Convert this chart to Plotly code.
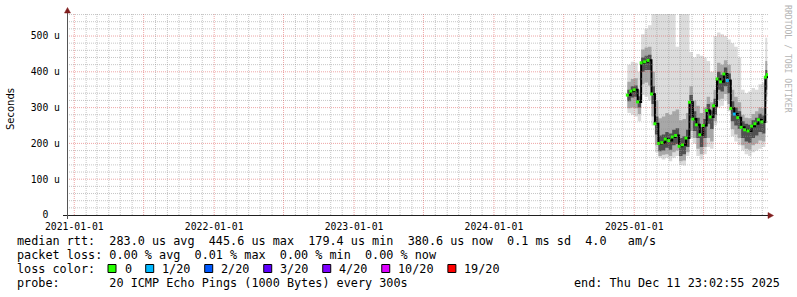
import plotly.graph_objects as go

# ---------------- data ----------------
dates = ["2024-12-14", "2024-12-23", "2025-01-01", "2025-01-10", "2025-01-19", "2025-01-28",
         "2025-02-06", "2025-02-15", "2025-02-24", "2025-03-05", "2025-03-14", "2025-03-23",
         "2025-04-01", "2025-04-10", "2025-04-19", "2025-04-28", "2025-05-07", "2025-05-16",
         "2025-05-25", "2025-06-03", "2025-06-12", "2025-06-21", "2025-06-30", "2025-07-09",
         "2025-07-18", "2025-07-27", "2025-08-05", "2025-08-14", "2025-08-23", "2025-09-01",
         "2025-09-10", "2025-09-19", "2025-09-28", "2025-10-07", "2025-10-16", "2025-10-25",
         "2025-11-03", "2025-11-12", "2025-11-21", "2025-11-30", "2025-12-09", "2025-12-14"]

# median rtt in microseconds
median_us = [335, 346, 350, 316, 425, 428, 432, 338, 255, 200, 202, 212, 208, 218, 222, 192,
             196, 215, 315, 268, 252, 224, 250, 292, 274, 305, 380, 372, 394, 376, 298, 282,
             272, 245, 238, 235, 248, 255, 266, 260, 385, 392]

# smoke envelopes (outer -> inner), microseconds
smoke_hi1 = [420, 428, 425, 400, 505, 520, 530, 562, 562, 562, 562, 562, 562, 562, 470, 562,
             562, 562, 455, 440, 450, 445, 440, 430, 400, 500, 510, 505, 500, 490, 480, 470,
             440, 350, 340, 345, 355, 350, 365, 370, 495, 500]
smoke_lo1 = [285, 280, 275, 262, 335, 330, 320, 250, 175, 160, 155, 160, 150, 160, 165, 140,
             138, 165, 215, 200, 165, 155, 170, 190, 185, 250, 300, 305, 320, 290, 220, 205,
             195, 180, 170, 165, 175, 180, 185, 190, 310, 320]
smoke_hi2 = [372, 380, 382, 350, 462, 468, 470, 400, 320, 270, 275, 285, 280, 290, 295, 265,
             268, 285, 360, 320, 305, 285, 300, 330, 315, 350, 425, 420, 432, 420, 350, 330,
             315, 280, 272, 270, 282, 290, 300, 298, 430, 435]
smoke_lo2 = [298, 300, 298, 282, 365, 370, 362, 275, 195, 165, 168, 170, 165, 175, 180, 150,
             152, 175, 235, 215, 185, 170, 190, 215, 205, 262, 322, 325, 338, 310, 240, 225,
             215, 195, 185, 182, 195, 200, 208, 205, 330, 335]
smoke_hi3 = [350, 360, 362, 332, 440, 445, 448, 360, 275, 222, 225, 232, 228, 238, 242, 215,
             220, 238, 335, 290, 272, 245, 268, 310, 292, 325, 400, 392, 412, 395, 318, 300,
             290, 262, 255, 252, 265, 272, 283, 278, 405, 410]
smoke_lo3 = [318, 328, 330, 300, 400, 405, 405, 310, 225, 178, 180, 188, 182, 195, 198, 165,
             170, 190, 270, 235, 215, 190, 215, 255, 240, 280, 350, 345, 360, 340, 262, 250,
             240, 215, 205, 202, 215, 222, 232, 228, 350, 355]

# packet loss per point (pings lost out of 20)
loss_20 = [0, 0, 0, 0, 0, 0, 0, 0, 0, 0, 0, 0, 0, 0, 0, 0, 0, 0, 0, 0, 0, 0, 0, 0, 0, 0, 0, 0,
           0, 1, 0, 1, 0, 0, 0, 0, 0, 0, 0, 0, 0, 0]

loss_labels = ["0", "1/20", "2/20", "3/20", "4/20", "10/20", "19/20"]
loss_levels = [0, 1, 2, 3, 4, 10, 19]
loss_colors = ["#26ff00", "#00b8ff", "#0059ff", "#5e00ff", "#7e00ff", "#dd00ff", "#ff0000"]

y_tickvals = [0, 100, 200, 300, 400, 500]
y_ticktext = ["0\u00a0\u00a0", "100\u00a0u", "200\u00a0u", "300\u00a0u", "400\u00a0u", "500\u00a0u"]
x_tickvals = ["2021-01-01", "2022-01-01", "2023-01-01", "2024-01-01", "2025-01-01"]
x_ticktext = ["2021-01-01", "2022-01-01", "2023-01-01", "2024-01-01", "2025-01-01"]

legend_rtt = "median rtt:  283.0 us avg  445.6 us max  179.4 us min  380.6 us now  0.1 ms sd  4.0   am/s"
legend_loss = "packet loss: 0.00 % avg  0.01 % max  0.00 % min  0.00 % now"
legend_probe = "probe:       20 ICMP Echo Pings (1000 Bytes) every 300s"
legend_end = "end: Thu Dec 11 23:02:55 2025"

# ---------------- layout geometry ----------------
W, H = 797, 297
PL, PR, PT, PB = 67, 768, 14, 215
Y_MAX = 561.5
X_RANGE = ["2020-12-13", "2025-12-16"]
MONO = "DejaVu Sans Mono"
GRID = "rgba(143,143,143,0.5)"
MGRID = "rgba(222,79,79,0.5)"
AXIS = "#1f1f1f"
ARROW = "#801f1f"


def fx(p):
    return (p - PL) / (PR - PL)


def fy(p):
    return (PB - p) / (PB - PT)


def nb(s):
    return s.replace(" ", "\u00a0")


fig = go.Figure()

for lo, hi, col in [(smoke_lo1, smoke_hi1, "#dcdcdc"),
                    (smoke_lo2, smoke_hi2, "#a8a8a8"),
                    (smoke_lo3, smoke_hi3, "#505050")]:
    fig.add_trace(go.Scatter(x=dates, y=lo, mode="lines", line=dict(width=0, shape="hv"),
                             hoverinfo="skip", showlegend=False))
    fig.add_trace(go.Scatter(x=dates, y=hi, mode="lines", line=dict(width=0, shape="hv"),
                             fill="tonexty", fillcolor=col, hoverinfo="skip", showlegend=False))

fig.add_trace(go.Scatter(x=dates, y=median_us, mode="lines",
                         line=dict(color="#000000", width=2, shape="hv"), showlegend=False))
cmap = dict(zip(loss_levels, loss_colors))
fig.add_trace(go.Scatter(x=dates, y=median_us, mode="markers",
                         marker=dict(symbol="square", size=3, color=[cmap[l] for l in loss_20],
                                     line=dict(width=0)), showlegend=False))

shapes = []
# horizontal grid
for v in range(20, int(Y_MAX), 20):
    shapes.append(dict(type="line", xref="paper", yref="y", x0=0, x1=1, y0=v, y1=v,
                       line=dict(color=MGRID if v % 100 == 0 else GRID, width=1, dash="1px,1px"),
                       layer="above"))
# vertical grid (monthly, major at Jan/Jul)
for yr in range(2021, 2026):
    for m in range(1, 13):
        d = f"{yr}-{m:02d}-01"
        shapes.append(dict(type="line", xref="x", yref="paper", x0=d, x1=d, y0=0, y1=1,
                           line=dict(color=MGRID if m in (1, 7) else GRID, width=1, dash="1px,1px"),
                           layer="above"))
# axes
shapes.append(dict(type="line", xref="paper", yref="paper", x0=fx(63), x1=fx(769), y0=fy(215.5), y1=fy(215.5),
                   line=dict(color=AXIS, width=1), layer="above"))
shapes.append(dict(type="line", xref="paper", yref="paper", x0=fx(67.5), x1=fx(67.5), y0=fy(219), y1=fy(12),
                   line=dict(color="#555555", width=1), layer="above"))
shapes.append(dict(type="path", xref="paper", yref="paper",
                   path=f"M {fx(768)} {fy(212.5)} L {fx(773.5)} {fy(215.5)} L {fx(768)} {fy(218.5)} Z",
                   fillcolor=ARROW, line=dict(color=ARROW, width=0.5), layer="above"))
shapes.append(dict(type="path", xref="paper", yref="paper",
                   path=f"M {fx(64.5)} {fy(13)} L {fx(67.5)} {fy(7.5)} L {fx(70.5)} {fy(13)} Z",
                   fillcolor=ARROW, line=dict(color=ARROW, width=0.5), layer="above"))

annotations = []
LEG_FONT = dict(family=MONO, size=11.8, color="#000000")
CH = 11.8 * 0.602


def text_at(x, y, s, anchor="left", font=LEG_FONT, angle=0):
    annotations.append(dict(xref="paper", yref="paper", x=fx(x), y=fy(y), text=nb(s), showarrow=False,
                            xanchor=anchor, yanchor="middle", font=font, borderpad=0, textangle=angle))


text_at(16, 241, legend_rtt)
text_at(16, 255, legend_loss)
text_at(16, 269, "loss color:")
text_at(16, 283, legend_probe)
text_at(781, 283, legend_end, anchor="right")

bx = 108.0
for lab, col in zip(loss_labels, loss_colors):
    shapes.append(dict(type="rect", xref="paper", yref="paper", x0=fx(bx), x1=fx(bx + 8), y0=fy(272.5), y1=fy(264.5),
                       fillcolor=col, line=dict(color="#000000", width=1), layer="above"))
    lx = bx + 15.6
    text_at(lx, 269, lab)
    bx = lx + len(lab) * CH + 15

text_at(11, 109, "Seconds", anchor="center", font=dict(family="DejaVu Sans", size=10, color="#000000"), angle=-90)
text_at(788, 59, "RRDTOOL / TOBI OETIKER", anchor="center",
        font=dict(family=MONO, size=8.15, color="#b4b4b4"), angle=90)

fig.update_layout(
    width=W, height=H, autosize=False,
    margin=dict(l=PL, r=W - PR, t=PT, b=H - PB, pad=0),
    paper_bgcolor="#ffffff", plot_bgcolor="#ffffff",
    showlegend=False,
    shapes=shapes, annotations=annotations,
    xaxis=dict(type="date", range=X_RANGE, tickmode="array", tickvals=x_tickvals, ticktext=x_ticktext,
               showgrid=False, zeroline=False, showline=False, ticks="", ticklabelstandoff=4,
               tickfont=dict(family=MONO, size=9.75, color="#000000"), fixedrange=True),
    yaxis=dict(range=[0, Y_MAX], tickmode="array", tickvals=y_tickvals, ticktext=y_ticktext,
               showgrid=False, zeroline=False, showline=False, ticks="", ticklabelstandoff=6,
               tickfont=dict(family=MONO, size=9.75, color="#000000"), fixedrange=True),
)

fig.write_html("out.html", config={"displayModeBar": False})
